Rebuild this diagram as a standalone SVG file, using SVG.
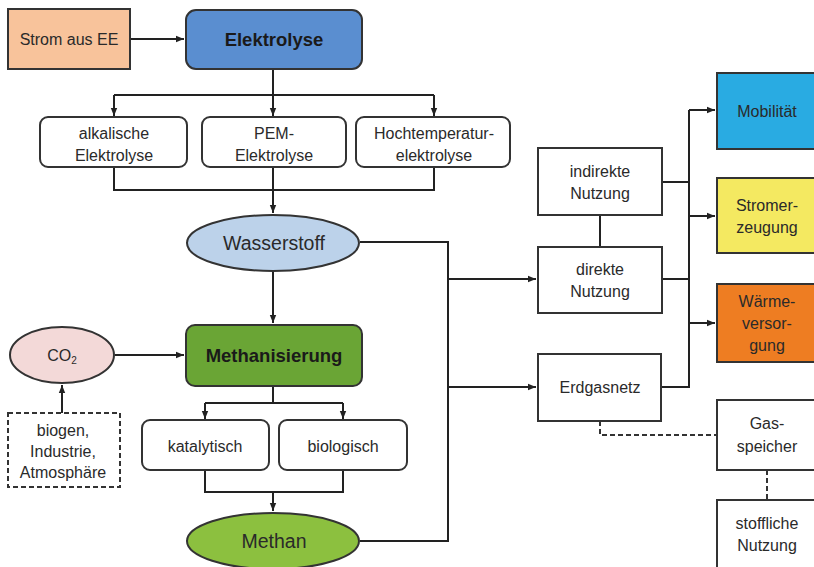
<svg xmlns="http://www.w3.org/2000/svg" width="814" height="567" viewBox="0 0 814 567">
  <defs>
    <marker id="arr" viewBox="0 0 10 10" refX="10" refY="5" markerWidth="4" markerHeight="4" orient="auto" markerUnits="strokeWidth">
      <path d="M0,1 L10,5 L0,9 z" fill="#222"/>
    </marker>
    <style>
      text { font-family: "Liberation Sans", Arial, sans-serif; font-size: 16px; fill: #2a2a2a; text-anchor: middle; }
      .b { font-weight: bold; font-size: 18.5px; fill: #1a1a1a; }
      .l { font-size: 19.5px; }
      .box { stroke: #333; stroke-width: 2; }
      .conn { fill: none; stroke: #222; stroke-width: 2; }
      .dash { fill: none; stroke: #333; stroke-width: 2; stroke-dasharray: 5 3; }
    </style>
  </defs>
  <rect width="814" height="567" fill="#fff"/>

  <!-- connectors -->
  <g id="connectors">
    <path class="conn" d="M130,39 H184" marker-end="url(#arr)"/>
    <path class="conn" d="M273,69 V95"/>
    <path class="conn" d="M114,95 H434"/>
    <path class="conn" d="M114,95 V116" marker-end="url(#arr)"/>
    <path class="conn" d="M273,95 V116" marker-end="url(#arr)"/>
    <path class="conn" d="M434,95 V116" marker-end="url(#arr)"/>
    <path class="conn" d="M114,167 V190 H434 V167"/>
    <path class="conn" d="M273,167 V213" marker-end="url(#arr)"/>
    <path class="conn" d="M273,271 V323" marker-end="url(#arr)"/>
    <path class="conn" d="M115,355 H184" marker-end="url(#arr)"/>
    <path class="conn" d="M62,413 V385" marker-end="url(#arr)"/>
    <path class="conn" d="M273,386 V403"/>
    <path class="conn" d="M205,403 H343"/>
    <path class="conn" d="M205,403 V419" marker-end="url(#arr)"/>
    <path class="conn" d="M343,403 V419" marker-end="url(#arr)"/>
    <path class="conn" d="M205,470 V492 H343 V470"/>
    <path class="conn" d="M273,492 V511" marker-end="url(#arr)"/>
    <path class="conn" d="M360,242 H448 V541 H360"/>
    <path class="conn" d="M448,279 H536" marker-end="url(#arr)"/>
    <path class="conn" d="M448,387 H536" marker-end="url(#arr)"/>
    <path class="conn" d="M600,215 V247"/>
    <path class="conn" d="M662,182 H689"/>
    <path class="conn" d="M662,279 H689"/>
    <path class="conn" d="M661,387 H689 V110"/>
    <path class="conn" d="M689,110 H715" marker-end="url(#arr)"/>
    <path class="conn" d="M689,216 H715" marker-end="url(#arr)"/>
    <path class="conn" d="M689,323 H715" marker-end="url(#arr)"/>
    <path class="dash" d="M600,421 V435 H717"/>
    <path class="dash" d="M767,470 V500"/>
  </g>

  <g id="strom">
    <rect class="box" x="8" y="9" width="122" height="60" fill="#F8C39B"/>
    <text x="69" y="45">Strom aus EE</text>
  </g>
  <g id="elektrolyse">
    <rect class="box" x="186" y="10" width="176" height="59" rx="10" fill="#5A8ED0"/>
    <text class="b" x="274" y="46">Elektrolyse</text>
  </g>
  <g id="alkalisch">
    <rect class="box" x="40" y="117" width="147" height="50" rx="8" fill="#fff"/>
    <text x="114" y="139">alkalische</text>
    <text x="114" y="161">Elektrolyse</text>
  </g>
  <g id="pem">
    <rect class="box" x="202" y="117" width="144" height="50" rx="8" fill="#fff"/>
    <text x="274" y="139">PEM-</text>
    <text x="274" y="161">Elektrolyse</text>
  </g>
  <g id="hochtemp">
    <rect class="box" x="356" y="117" width="154" height="50" rx="8" fill="#fff"/>
    <text x="434" y="139">Hochtemperatur-</text>
    <text x="434" y="161">elektrolyse</text>
  </g>
  <g id="wasserstoff">
    <ellipse class="box" cx="273" cy="243" rx="86" ry="28" fill="#BCD2EA"/>
    <text class="l" x="274" y="250">Wasserstoff</text>
  </g>
  <g id="co2">
    <ellipse class="box" cx="62" cy="355" rx="52" ry="28" fill="#F3D9D8"/>
    <text x="62" y="361">CO<tspan font-size="10" dy="3">2</tspan></text>
  </g>
  <g id="quellen">
    <rect class="dash" x="8" y="413" width="112" height="74" fill="#fff"/>
    <text x="63" y="436">biogen,</text>
    <text x="63" y="457">Industrie,</text>
    <text x="63" y="478">Atmosphäre</text>
  </g>
  <g id="methanisierung">
    <rect class="box" x="186" y="325" width="176" height="61" rx="9" fill="#6AA535"/>
    <text class="b" x="274" y="362">Methanisierung</text>
  </g>
  <g id="katalytisch">
    <rect class="box" x="142" y="420" width="127" height="50" rx="8" fill="#fff"/>
    <text x="205" y="452">katalytisch</text>
  </g>
  <g id="biologisch">
    <rect class="box" x="279" y="420" width="128" height="50" rx="8" fill="#fff"/>
    <text x="343" y="452">biologisch</text>
  </g>
  <g id="methan">
    <ellipse class="box" cx="273" cy="541" rx="86" ry="28" fill="#8CC03F"/>
    <text class="l" x="274" y="548">Methan</text>
  </g>
  <g id="indirekt">
    <rect class="box" x="538" y="148" width="124" height="67" fill="#fff"/>
    <text x="600" y="177">indirekte</text>
    <text x="600" y="199">Nutzung</text>
  </g>
  <g id="direkt">
    <rect class="box" x="538" y="247" width="124" height="66" fill="#fff"/>
    <text x="600" y="275">direkte</text>
    <text x="600" y="297">Nutzung</text>
  </g>
  <g id="erdgasnetz">
    <rect class="box" x="538" y="354" width="123" height="67" fill="#fff"/>
    <text x="600" y="393">Erdgasnetz</text>
  </g>
  <g id="mobilitaet">
    <rect class="box" x="717" y="73" width="104" height="76" fill="#29ABE2"/>
    <text x="767" y="117">Mobilität</text>
  </g>
  <g id="stromerzeugung">
    <rect class="box" x="717" y="178" width="104" height="75" fill="#F4E961"/>
    <text x="767" y="211">Stromer-</text>
    <text x="767" y="233">zeugung</text>
  </g>
  <g id="waerme">
    <rect class="box" x="717" y="284" width="104" height="78" fill="#EE7D22"/>
    <text x="767" y="307">Wärme-</text>
    <text x="767" y="329">versor-</text>
    <text x="767" y="351">gung</text>
  </g>
  <g id="gasspeicher">
    <rect class="box" x="717" y="400" width="104" height="70" fill="#fff"/>
    <text x="767" y="429">Gas-</text>
    <text x="767" y="452">speicher</text>
  </g>
  <g id="stofflich">
    <rect class="box" x="717" y="500" width="104" height="80" fill="#fff"/>
    <text x="767" y="529">stoffliche</text>
    <text x="767" y="551">Nutzung</text>
  </g>
</svg>
